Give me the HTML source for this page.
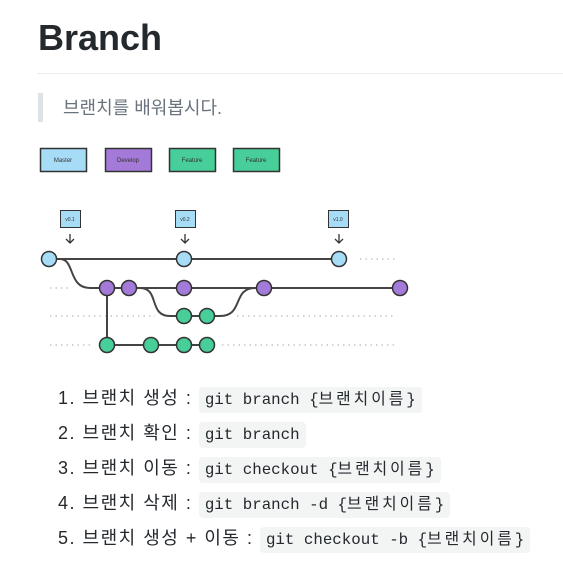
<!DOCTYPE html>
<html><head><meta charset="utf-8"><style>
body{margin:0;width:563px;height:578px;background:#fff;font-family:"Liberation Sans","Noto Sans CJK KR",sans-serif;color:#24292e;position:relative;overflow:hidden}
h1{position:absolute;left:38px;top:12px;margin:0;font-size:36px;font-weight:bold;line-height:52px}
.hr{position:absolute;left:37px;right:0;top:73px;height:1px;background:#eaecef}
.bq{position:absolute;left:38px;top:93px;width:5px;height:29px;background:#dfe2e5}
.bqt{position:absolute;left:63px;top:96px;font-size:18px;color:#6a737d;line-height:24px}
ol{position:absolute;left:58px;top:383px;margin:0;padding:0;list-style:none;font-size:18px;letter-spacing:1.5px}
li{height:35px;line-height:30px;white-space:nowrap}
code{font-family:"Liberation Mono","Noto Sans CJK KR",monospace;font-size:15.8px;letter-spacing:0;background:#f3f4f4;padding:4px 6px;border-radius:4px}
code span{letter-spacing:3px}
svg{position:absolute;left:0;top:0}
</style></head><body>
<h1>Branch</h1>
<div class="hr"></div>
<div class="bq"></div>
<div class="bqt">브랜치를 배워봅시다.</div>
<svg width="563" height="370" font-family="Liberation Sans" font-size="6" text-anchor="middle">
<g stroke="#333" stroke-width="1.5">
<rect x="40.5" y="148.5" width="46" height="23" fill="#a7dcf7"/>
<rect x="105.5" y="148.5" width="46" height="23" fill="#a47ad9"/>
<rect x="169.5" y="148.5" width="46" height="23" fill="#48ce98"/>
<rect x="233.5" y="148.5" width="46" height="23" fill="#48ce98"/>
<rect x="60.5" y="210.5" width="20" height="17" fill="#a7dcf7" stroke-width="1"/>
<rect x="175.5" y="210.5" width="20" height="17" fill="#a7dcf7" stroke-width="1"/>
<rect x="328.5" y="210.5" width="20" height="17" fill="#a7dcf7" stroke-width="1"/>
</g>
<g fill="#333"><text x="63" y="162">Master</text><text x="128" y="162">Develop</text><text x="192" y="162">Feature</text><text x="256" y="162">Feature</text>
<text x="70" y="221" font-size="5">v0.1</text><text x="185" y="221" font-size="5">v0.2</text><text x="338" y="221" font-size="5">v1.0</text></g>
<g stroke="#333" stroke-width="1.3" fill="none">
<path d="M70 234v9M66 239l4 4 4-4M185 234v9M181 239l4 4 4-4M339 234v9M335 239l4 4 4-4"/>
</g>
<g stroke="#bbb" stroke-width="1.2" stroke-dasharray="1.5 4" fill="none">
<path d="M360 259H395M50 288H72M50 316H155M237 316H395M50 345H92M222 345H395"/>
</g>
<g stroke="#444" stroke-width="2" fill="none">
<path d="M49 259H339M60 259C75 259 68 288 90 288H400M107 288V345H207M140 288C160 288 148 316 170 316H220C244 316 232 288 255 288"/>
</g>
<g stroke="#333" stroke-width="1.5">
<g fill="#a7dcf7"><circle cx="49" cy="259" r="7.5"/><circle cx="184" cy="259" r="7.5"/><circle cx="339" cy="259" r="7.5"/></g>
<g fill="#a47ad9"><circle cx="107" cy="288" r="7.5"/><circle cx="129" cy="288" r="7.5"/><circle cx="184" cy="288" r="7.5"/><circle cx="264" cy="288" r="7.5"/><circle cx="400" cy="288" r="7.5"/></g>
<g fill="#48ce98"><circle cx="184" cy="316" r="7.5"/><circle cx="207" cy="316" r="7.5"/><circle cx="107" cy="345" r="7.5"/><circle cx="151" cy="345" r="7.5"/><circle cx="184" cy="345" r="7.5"/><circle cx="207" cy="345" r="7.5"/></g>
</g>
</svg>
<ol>
<li>1. 브랜치 생성 : <code>git branch {<span>브랜치이름</span>}</code></li>
<li>2. 브랜치 확인 : <code>git branch</code></li>
<li>3. 브랜치 이동 : <code>git checkout {<span>브랜치이름</span>}</code></li>
<li>4. 브랜치 삭제 : <code>git branch -d {<span>브랜치이름</span>}</code></li>
<li>5. 브랜치 생성 + 이동 : <code>git checkout -b {<span>브랜치이름</span>}</code></li>
</ol>
</body></html>
